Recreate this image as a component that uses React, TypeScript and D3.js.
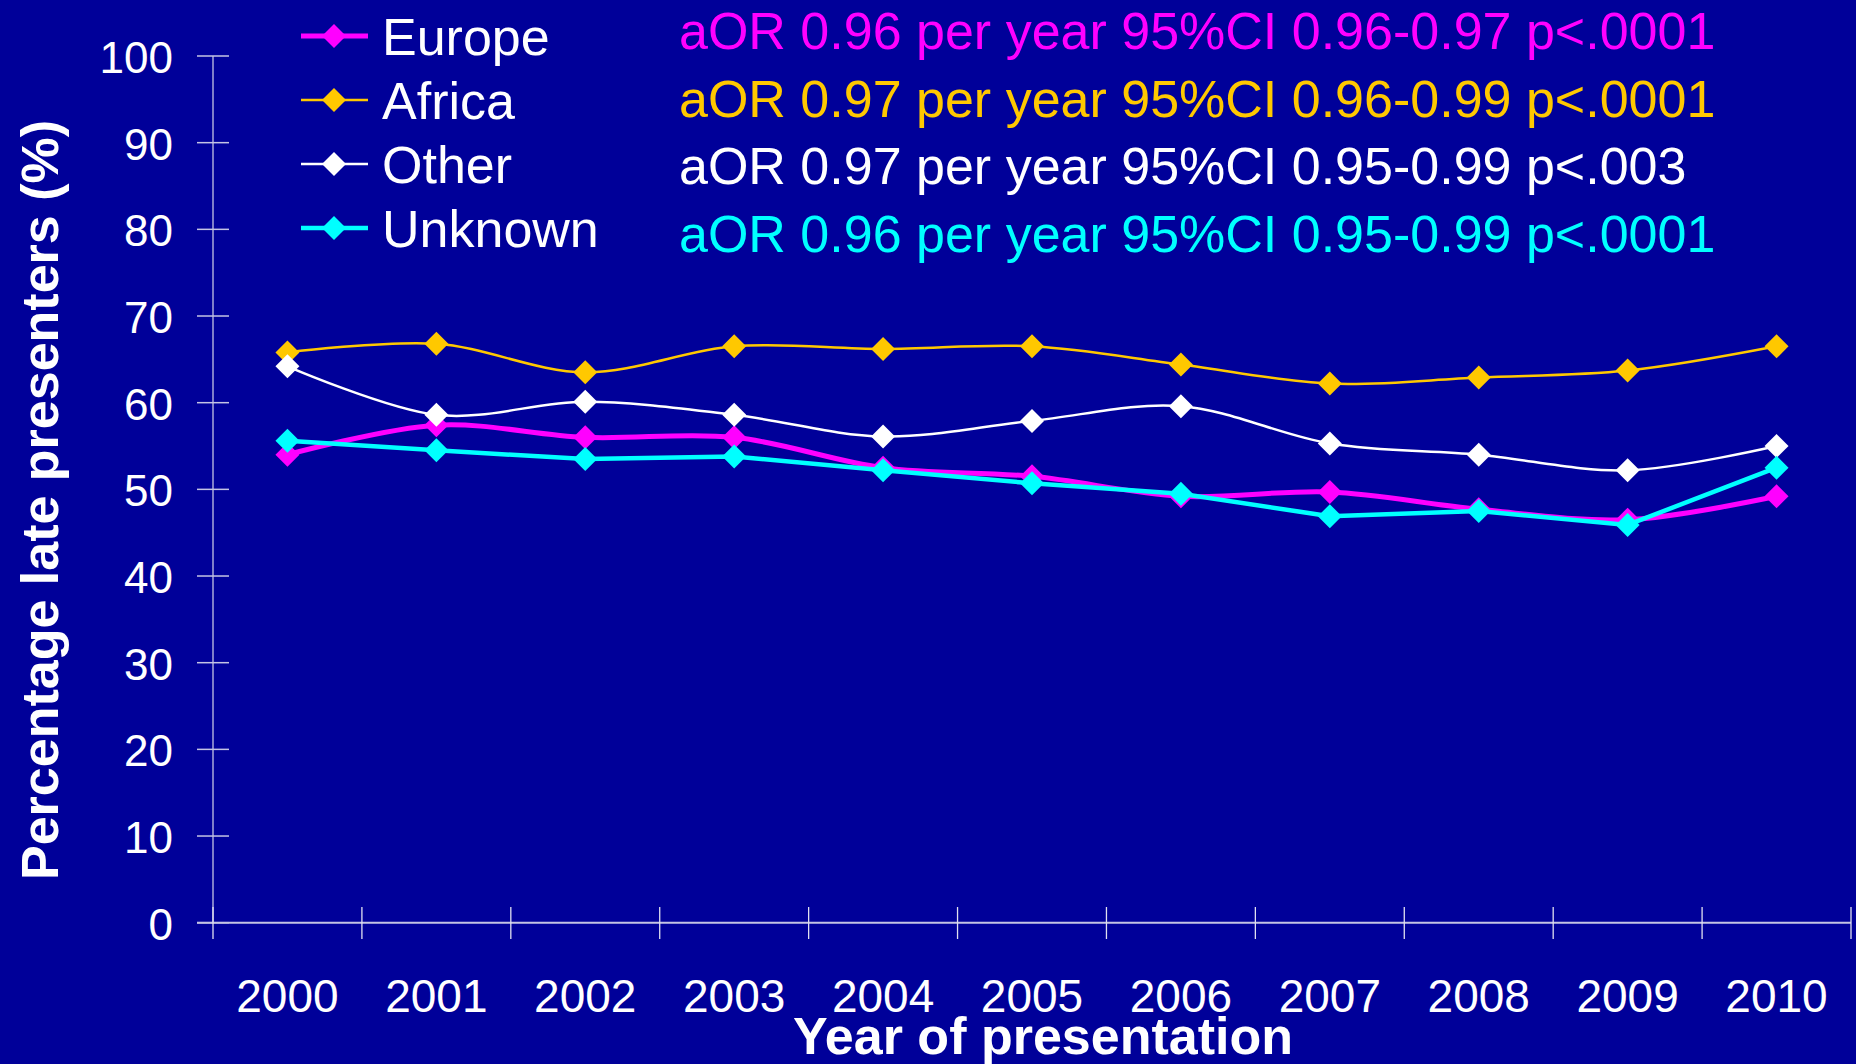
import React from 'react';
import * as d3 from 'd3';

const years = ['2000', '2001', '2002', '2003', '2004', '2005', '2006', '2007', '2008', '2009', '2010'];
const europe = [54.0, 57.4, 56.0, 56.0, 52.5, 51.5, 49.2, 49.7, 47.7, 46.5, 49.2];
const africa = [65.8, 66.8, 63.5, 66.5, 66.2, 66.5, 64.4, 62.2, 62.9, 63.7, 66.5];
const other = [64.2, 58.6, 60.1, 58.6, 56.1, 57.9, 59.6, 55.3, 54.0, 52.2, 55.0];
const unknown = [55.6, 54.5, 53.5, 53.8, 52.2, 50.7, 49.5, 46.9, 47.5, 45.9, 52.5];
const yTicks = [0, 10, 20, 30, 40, 50, 60, 70, 80, 90, 100];

const seriesNames = ['Europe', 'Africa', 'Other', 'Unknown'];
const seriesValues = [europe, africa, other, unknown];
const seriesColors = ['#FF00FF', '#FFC800', '#FFFFFF', '#00FFFF'];
const seriesWidths = [5, 2.5, 2.5, 4.5];
const seriesSmooth = [true, true, true, false];
const annotations = [
  'aOR 0.96 per year 95%CI 0.96-0.97 p<.0001',
  'aOR 0.97 per year 95%CI 0.96-0.99 p<.0001',
  'aOR 0.97 per year 95%CI 0.95-0.99 p<.003',
  'aOR 0.96 per year 95%CI 0.95-0.99 p<.0001',
];

const W = 1856;
const H = 1064;
const BG = '#000099';
const FONT = '"Liberation Sans", Arial, Helvetica, sans-serif';
const AXIS = '#c4c4e4';

export default function App() {
  const x = d3.scaleBand<string>().domain(years).range([213, 1851]).padding(0);
  const y = d3.scaleLinear().domain([0, 100]).range([922.7, 56]);
  const cx = (yr: string) => (x(yr) as number) + x.bandwidth() / 2;
  const diamond = 'M0,-12L12,0L0,12L-12,0Z';
  const boundaries = [...years.map((yr) => x(yr) as number), 1851];

  return (
    <svg width={W} height={H} style={{ position: 'absolute', left: 0, top: 0, display: 'block' }} fontFamily={FONT}>
      <rect x={0} y={0} width={W} height={H} fill={BG} />

      {/* Y axis */}
      <line x1={213} x2={213} y1={y(100)} y2={y(0)} stroke={AXIS} strokeWidth={1.3} />
      {yTicks.map((t) => (
        <g key={t}>
          <line x1={197} x2={229} y1={y(t)} y2={y(t)} stroke={AXIS} strokeWidth={1.5} />
          <text x={173} y={y(t) + 17} fill="#fff" fontSize={44} textAnchor="end">{t}</text>
        </g>
      ))}

      {/* X axis */}
      <line x1={197} x2={1851} y1={y(0)} y2={y(0)} stroke={AXIS} strokeWidth={2} />
      {boundaries.map((b, i) => (
        <line key={i} x1={b} x2={b} y1={907} y2={939} stroke="#e0e0f0" strokeWidth={1.3} />
      ))}
      {years.map((yr) => (
        <text key={yr} x={cx(yr)} y={1012} fill="#fff" fontSize={46} textAnchor="middle">{yr}</text>
      ))}

      {/* Axis titles */}
      <text x={1043} y={1054} fill="#fff" fontSize={52} fontWeight="bold" textAnchor="middle">Year of presentation</text>
      <text transform="translate(58,500) rotate(-90)" fill="#fff" fontSize={52} fontWeight="bold" textAnchor="middle">Percentage late presenters (%)</text>

      {/* Series */}
      {seriesValues.map((vals, si) => {
        const line = d3
          .line<number>()
          .x((_, i) => cx(years[i]))
          .y((v) => y(v))
          .curve(seriesSmooth[si] ? d3.curveCatmullRom.alpha(0) : d3.curveLinear);
        return (
          <g key={seriesNames[si]}>
            <path d={line(vals) || ''} fill="none" stroke={seriesColors[si]} strokeWidth={seriesWidths[si]} strokeLinejoin="round" />
            {vals.map((v, i) => (
              <path key={i} d={diamond} transform={`translate(${cx(years[i])},${y(v)})`} fill={seriesColors[si]} />
            ))}
          </g>
        );
      })}

      {/* Legend */}
      {seriesNames.map((n, i) => {
        const ly = 36 + i * 64;
        return (
          <g key={n}>
            <line x1={301} x2={368} y1={ly} y2={ly} stroke={seriesColors[i]} strokeWidth={seriesWidths[i]} />
            <path d={diamond} transform={`translate(334,${ly})`} fill={seriesColors[i]} />
            <text x={382} y={ly + 19} fill="#fff" fontSize={52}>{n}</text>
          </g>
        );
      })}

      {/* Annotations */}
      {annotations.map((a, i) => (
        <text key={i} x={679} y={49 + i * 67.6} fill={seriesColors[i]} fontSize={52}>{a}</text>
      ))}
    </svg>
  );
}
